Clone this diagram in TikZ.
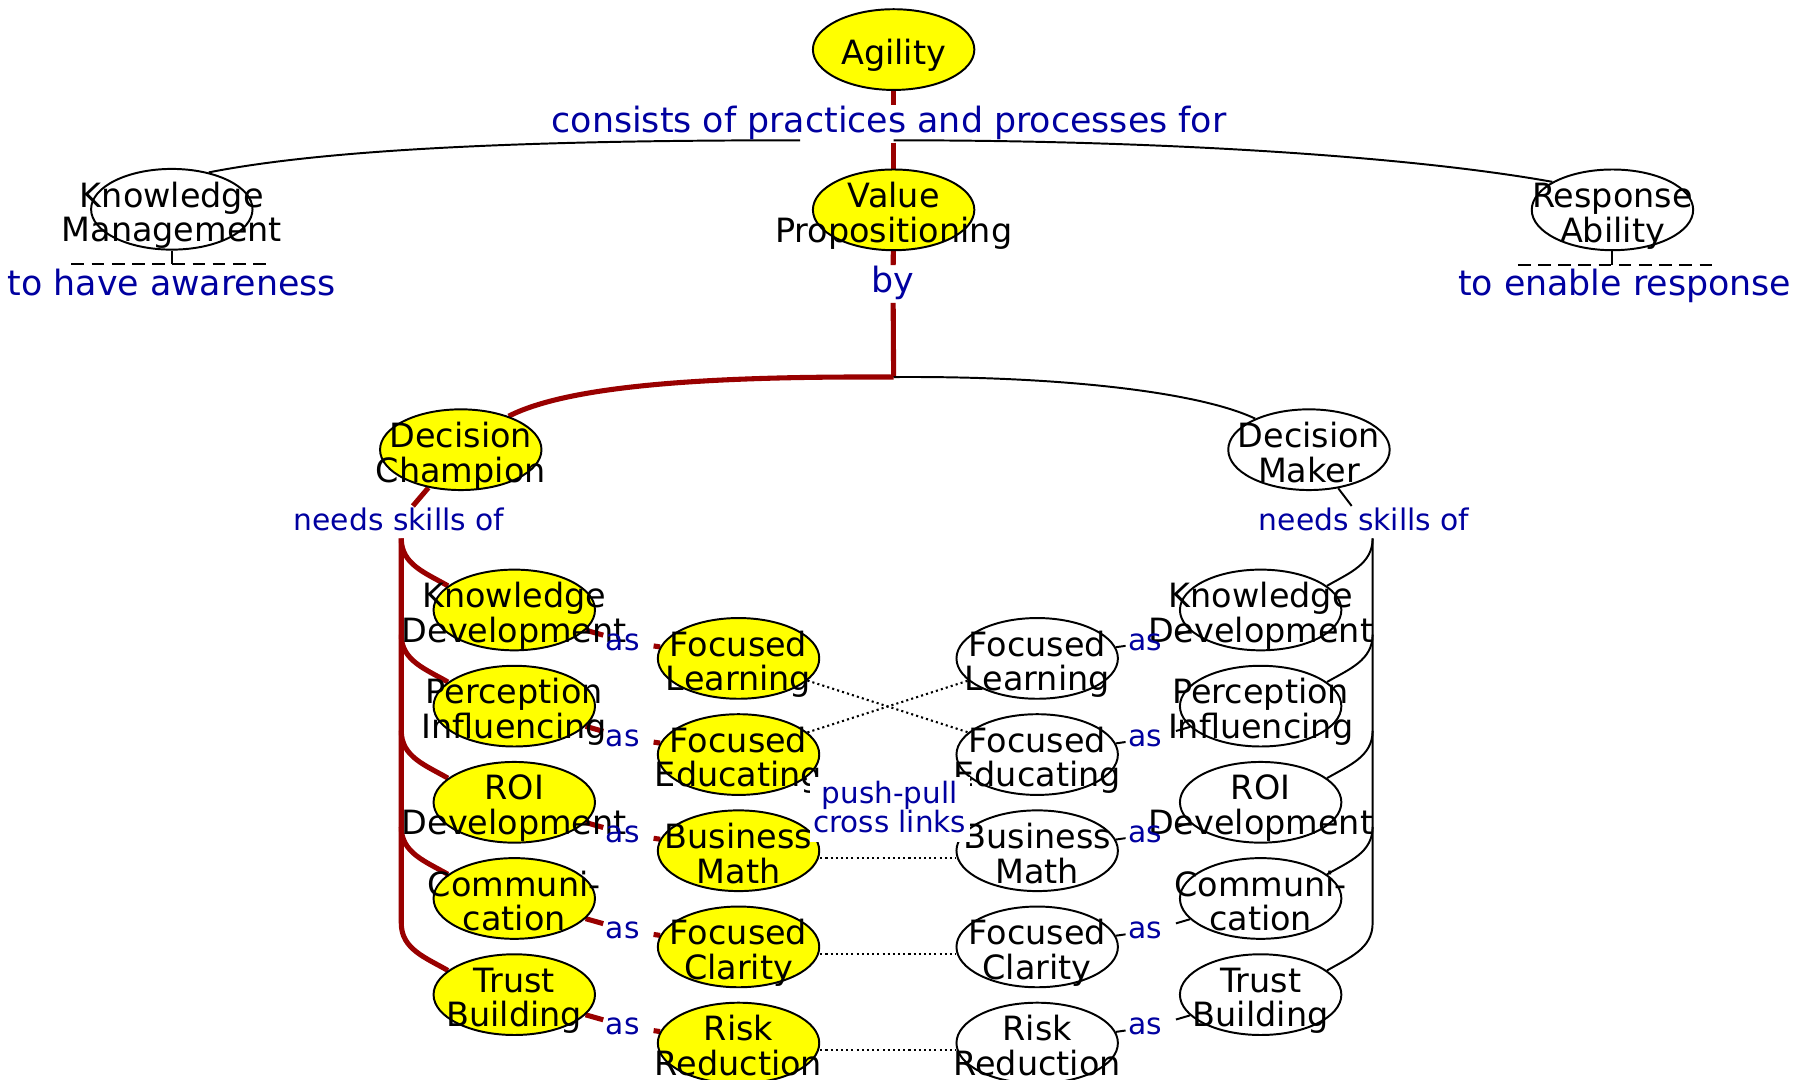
\documentclass[tikz,border=0pt]{standalone}
\usepackage{fontspec}
\setmainfont{DejaVu Sans}
\usetikzlibrary{shapes.geometric,calc}
\definecolor{cyel}{RGB}{255,255,0}
\definecolor{lred}{RGB}{153,0,0}
\definecolor{lblue}{RGB}{0,0,160}
\pgfdeclarelayer{back}
\pgfdeclarelayer{bg}
\pgfsetlayers{back,bg,main}
\newcommand\cstrut{\rule[-7pt]{0pt}{29pt}}
\newcommand\pstrut{\rule[-5pt]{0pt}{24pt}}
\tikzset{
  cshape/.style={ellipse, draw=black, line width=1.7pt, minimum width=140pt,
    minimum height=70pt, inner sep=0pt},
  yel/.style={cshape, fill=cyel},
  wht/.style={cshape, fill=white},
  ctext/.style={align=center, inner sep=0pt, font=\fontsize{29}{29}\selectfont, yshift=-5.5pt},
  biglbl/.style={text=lblue, font=\fontsize{30.2}{30}\selectfont, text height=22.4pt,
    text depth=7pt, inner sep=1.5pt, anchor=base},
  smlbl/.style={text=lblue, font=\fontsize{25.8}{24}\selectfont, text height=19pt,
    text depth=5pt, inner sep=2pt, anchor=base},
  pplbl/.style={text=lblue, fill=white, align=center, font=\fontsize{25.5}{24}\selectfont, inner sep=3pt},
  redln/.style={draw=lred, line width=4.4pt},
  blkln/.style={draw=black, line width=1.7pt},
  dotln/.style={draw=black, line width=1.8pt, dash pattern=on 1.8pt off 2.7pt},
  dashln/.style={draw=black, line width=1.7pt, dash pattern=on 11pt off 6.5pt},
}
\begin{document}
\begin{tikzpicture}[x=1pt, y=-1pt]
\begin{pgfonlayer}{back}
  \fill[white] (0,0) rectangle (1568,936);
\end{pgfonlayer}
\useasboundingbox (0,0) rectangle (1568,936);

% ---- top level concepts
\node[yel] (ag) at (775,43) {};
\node[ctext] (ag-t) at (ag) {\cstrut Agility};
\node[yel] (vp) at (775,182) {};
\node[ctext] (vp-t) at (vp) {\cstrut Value\\\cstrut Propositioning};
\node[wht] (km) at (149,181.5) {};
\node[ctext] (km-t) at (km) {\cstrut Knowledge\\\cstrut Management};
\node[wht] (ra) at (1398.4,182) {};
\node[ctext] (ra-t) at (ra) {\cstrut Response\\\cstrut Ability};

\node[biglbl] (cons) at (771,115) {consists of practices and processes for};
\node[biglbl] (by) at (774.5,254) {by};
\node[biglbl] (awr) at (149,256) {to have awareness};
\node[biglbl] (enr) at (1409,256) {to enable response};

% ---- decision roles
\node[yel] (dc) at (399.6,390) {};
\node[ctext] (dc-t) at (dc) {\cstrut Decision\\\cstrut Champion};
\node[wht] (dm) at (1135.2,390) {};
\node[ctext] (dm-t) at (dm) {\cstrut Decision\\\cstrut Maker};
\node[smlbl] (nsl) at (346,460) {needs skills of};
\node[smlbl] (nsr) at (1183,460) {needs skills of};

% ---- skills, practices and "as" phrases, one row each
\foreach \i/\a/\b/\ta/\tb in {
  0/kd/fl/{Knowledge\\\cstrut Development}/{Focused\\\cstrut Learning},
  1/pi/fe/{Perception\\\cstrut Influencing}/{Focused\\\cstrut Educating},
  2/roi/bm/{ROI\\\cstrut Development}/{Business\\\cstrut Math},
  3/com/fc/{Communi-\\\cstrut cation}/{Focused\\\cstrut Clarity},
  4/tb/rr/{Trust\\\cstrut Building}/{Risk\\\cstrut Reduction}}{
  \node[yel] (\a l) at (446,529+83.4*\i) {};
  \node[ctext] (\a l-t) at (\a l) {\cstrut\ta};
  \node[wht] (\a r) at (1093.3,529+83.4*\i) {};
  \node[ctext] (\a r-t) at (\a r) {\cstrut\ta};
  \node[yel] (\b l) at (640.5,571+83.4*\i) {};
  \node[ctext] (\b l-t) at (\b l) {\cstrut\tb};
  \node[wht] (\b r) at (899.5,571+83.4*\i) {};
  \node[ctext] (\b r-t) at (\b r) {\cstrut\tb};
  \node[smlbl] (asl\i) at (545,564+83.4*\i) {as\hspace*{10pt}};
  \node[smlbl] (asr\i) at (998,564+83.4*\i) {as\hspace*{10pt}};
  \coordinate (lb\i) at (348,467+83.4*\i);
  \coordinate (rb\i) at (1190.4,467+83.4*\i);
}

\node[pplbl] (pp) at (771.5,702.3) {\pstrut push-pull\\\pstrut cross links};

% ---- connectors
\begin{pgfonlayer}{bg}
  \draw[redln] (ag) -- (ag |- cons.north);
  \draw[redln] (vp |- cons.south) -- (vp);
  \draw[blkln] ($(cons.south)+(-77,-2)$) .. controls (450,121.5) and (280,130) .. (km.45);
  \draw[blkln] ($(cons.south)+(4,-2)$) .. controls (1000,121.5) and (1220,135) .. (ra.155);

  \coordinate (kmd) at ($(km.south)+(0,12)$);
  \draw[blkln] (km) -- (kmd);
  \draw[dashln] ($(kmd)+(-87,0)$) -- ($(kmd)+(86,0)$);
  \coordinate (rad) at ($(ra.south)+(0,12)$);
  \draw[blkln] (ra) -- (rad);
  \draw[dashln] ($(rad)+(-82,0)$) -- ($(rad)+(90,0)$);

  \draw[redln] (vp) -- (by);
  \coordinate (split) at (775,327);
  \draw[redln] (by) -- (split);
  \draw[redln] (split) .. controls (600,326) and (490,336) .. (dc.35);
  \draw[blkln] (split) .. controls (920,326) and (1040,340) .. (dm.150);

  \draw[redln] (dc) -- (nsl);
  \draw[blkln] (dm) -- (nsr);

  % skill trees
  \draw[redln] (lb0) -- (lb4) to[out=270, in=150] (tbl.160);
  \draw[blkln] (rb0) -- (rb4) to[out=270, in=30] (tbr.20);
  \foreach \i/\a in {0/kd,1/pi,2/roi,3/com}{
    \draw[redln] (lb\i) to[out=270, in=150] (\a l.160);
    \draw[blkln] (rb\i) to[out=270, in=30] (\a r.20);
  }

  % "as" links
  \foreach \i/\a/\b in {0/kd/fl,1/pi/fe,2/roi/bm,3/com/fc,4/tb/rr}{
    \draw[redln] (\a l) -- (asl\i) -- (\b l);
    \draw[blkln] (\b r) -- (asr\i) -- (\a r);
  }

  % push-pull cross links
  \draw[dotln] (fll) -- (fer);
  \draw[dotln] (fel) -- (flr);
  \draw[dotln] (fel) -- (pp);
  \draw[dotln] (pp) -- (fer);
  \foreach \b in {bm,fc,rr}{
    \draw[dotln] ([yshift=-6pt]\b l.east) -- ([yshift=-6pt]\b r.west);
  }
\end{pgfonlayer}
\end{tikzpicture}
\end{document}
